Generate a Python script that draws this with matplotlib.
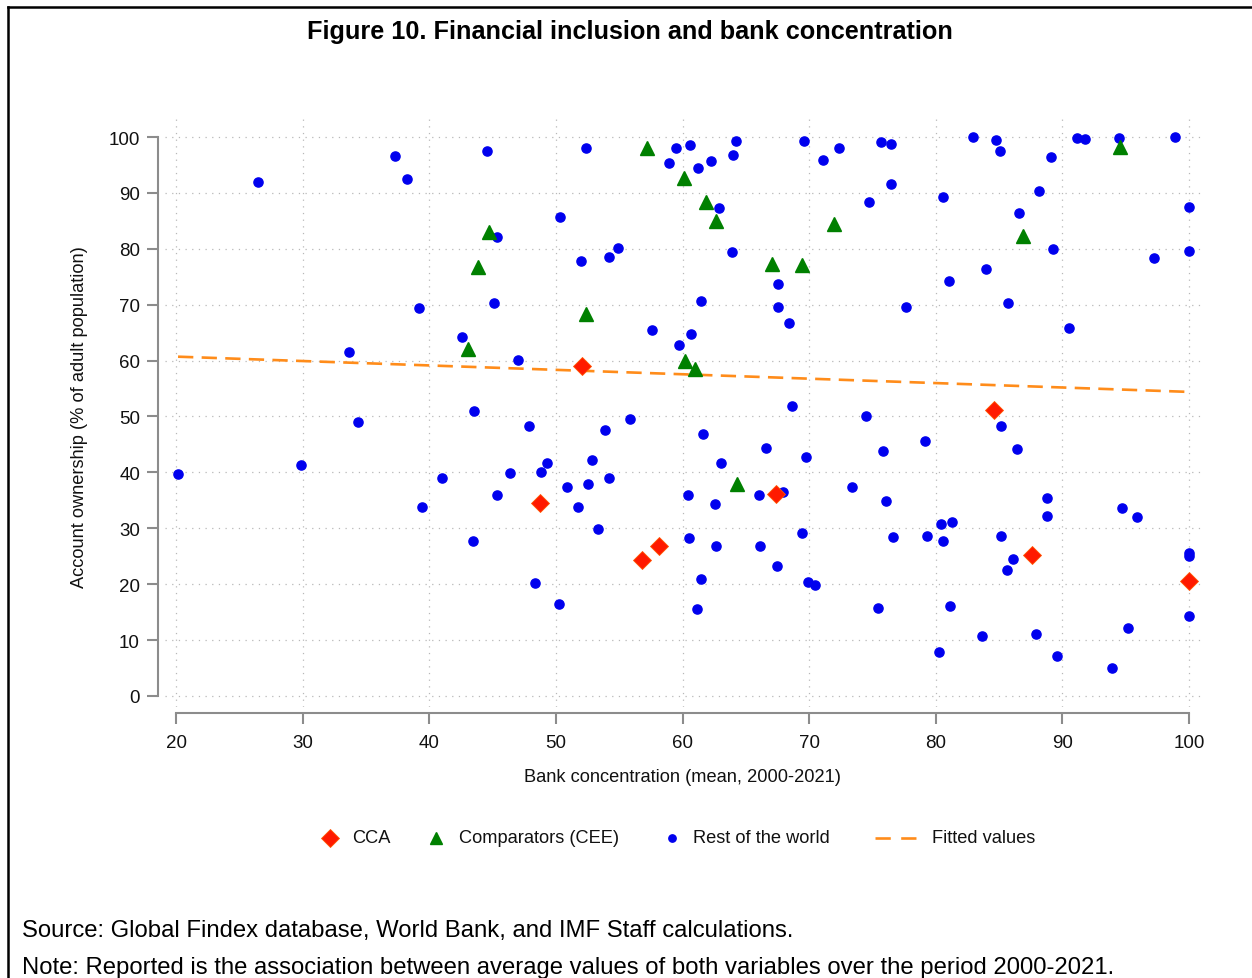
import matplotlib
matplotlib.use("Agg")
import matplotlib.pyplot as plt
from matplotlib.lines import Line2D
from matplotlib import font_manager

# ---------------- data ----------------
rest_x = [20.16, 26.48, 29.87, 33.66, 34.37, 37.30, 38.24, 39.19, 39.43, 41.01,
          42.59, 43.53, 43.45, 44.56, 45.35, 45.11, 45.35, 46.38, 47.01, 47.88,
          48.35, 48.83, 49.30, 50.33, 50.25, 50.88, 51.75, 51.98, 52.38, 52.54,
          52.85, 53.33, 53.88, 54.20, 54.20, 54.91, 55.85, 57.59, 58.93, 59.49,
          59.72, 60.43, 60.59, 60.51, 60.67, 61.15, 61.22, 61.46, 61.46, 61.62,
          62.25, 62.57, 62.65, 62.88, 63.04, 63.91, 63.99, 64.22, 66.04, 66.12,
          66.59, 67.46, 67.54, 67.54, 67.94, 68.41, 68.65, 69.44, 69.60, 69.75,
          69.91, 70.46, 71.10, 72.36, 73.39, 74.49, 74.73, 75.44, 75.68, 75.83,
          76.07, 76.47, 76.47, 76.62, 77.65, 79.15, 79.31, 80.26, 80.41, 80.57,
          80.57, 81.05, 81.13, 81.28, 82.94, 83.65, 83.97, 84.76, 85.07, 85.15,
          85.15, 85.71, 85.63, 86.10, 86.42, 86.57, 87.92, 88.15, 88.79, 88.79,
          89.10, 89.26, 89.58, 90.52, 91.16, 91.79, 93.92, 94.47, 94.71, 95.18,
          95.89, 97.24, 98.90, 100.0, 100.0, 100.0, 100.0, 100.0]
rest_y = [39.71, 91.95, 41.32, 61.54, 49.02, 96.60, 92.49, 69.41, 33.81, 39.00,
          64.22, 50.98, 27.73, 97.50, 82.11, 70.30, 35.96, 39.89, 60.11, 48.30,
          20.21, 40.07, 41.68, 85.69, 16.46, 37.39, 33.81, 77.82, 98.03, 37.92,
          42.22, 29.87, 47.58, 39.00, 78.53, 80.14, 49.55, 65.47, 95.35, 98.03,
          62.79, 35.96, 98.57, 28.26, 64.76, 15.56, 94.45, 20.93, 70.66, 46.87,
          95.71, 34.35, 26.83, 87.30, 41.68, 79.43, 96.78, 99.28, 35.96, 26.83,
          44.36, 23.26, 73.70, 69.59, 36.49, 66.73, 51.88, 29.16, 99.28, 42.75,
          20.39, 19.86, 95.89, 98.03, 37.39, 50.09, 88.37, 15.74, 99.11, 43.83,
          34.88, 98.75, 91.59, 28.44, 69.59, 45.62, 28.62, 7.87, 30.77, 27.73,
          89.27, 74.24, 16.10, 31.13, 100.0, 10.73, 76.39, 99.46, 97.50, 48.30,
          28.62, 70.30, 22.54, 24.51, 44.19, 86.40, 11.09, 90.34, 35.42, 32.20,
          96.42, 79.96, 7.16, 65.83, 99.82, 99.64, 5.01, 99.82, 33.63, 12.16,
          32.02, 78.35, 100.0, 87.48, 79.61, 25.58, 25.04, 14.31]

cee_x = [57.20, 60.12, 61.86, 62.65, 71.97, 44.72, 43.85, 67.07, 69.44, 52.38,
         43.06, 60.20, 60.99, 64.30, 86.89, 94.55]
cee_y = [98.03, 92.67, 88.37, 84.97, 84.44, 83.01, 76.74, 77.28, 77.10, 68.34,
         62.08, 59.93, 58.50, 37.92, 82.29, 98.21]

cca_x = [52.06, 48.75, 56.80, 58.14, 67.38, 84.60, 87.60, 100.0]
cca_y = [59.03, 34.53, 24.33, 26.83, 36.14, 51.16, 25.22, 20.57]

fit_x = [20.16, 100.0]
fit_y = [60.7, 54.4]

x_ticks = [20, 30, 40, 50, 60, 70, 80, 90, 100]
y_ticks = [0, 10, 20, 30, 40, 50, 60, 70, 80, 90, 100]

title = "Figure 10. Financial inclusion and bank concentration"
xlabel = "Bank concentration (mean, 2000-2021)"
ylabel = "Account ownership (% of adult population)"
source = "Source: Global Findex database, World Bank, and IMF Staff calculations."
note = "Note: Reported is the association between average values of both variables over the period 2000-2021."
labels = ["CCA", "Comparators (CEE)", "Rest of the world", "Fitted values"]

# ---------------- style ----------------
names = {f.name for f in font_manager.fontManager.ttflist}
if "Liberation Sans Narrow" in names:
    narrow, nscale = "Liberation Sans Narrow", 1.0
else:
    narrow, nscale = "Liberation Sans", 0.9
plt.rcParams['lines.scale_dashes'] = False

W, H = 1252, 979
fig = plt.figure(figsize=(W / 100, H / 100), dpi=100)

ax_l, ax_r, ax_t, ax_b = 165, 1204, 119, 708
ax = fig.add_axes([ax_l / W, 1 - ax_b / H, (ax_r - ax_l) / W, (ax_b - ax_t) / H])
ax.set_xlim(19.13, 101.18)
ax.set_ylim(-1.97, 103.4)

ax.grid(True, color="#b8b8b8", linestyle=(0, (0.9, 3.9)), linewidth=0.9)
ax.set_axisbelow(True)

BLUE = "#0000ee"
GREEN = "#008000"
RED = "#ff1a00"
ORANGE = "#ff8c1a"

MS_D, MS_T, MS_O = 9.6, 9.5, 6.6

ax.plot(fit_x, fit_y, color=ORANGE, linewidth=1.9, dashes=(11, 6), zorder=2)
ax.plot(rest_x, rest_y, linestyle="none", marker="o", ms=MS_O, color=BLUE, mec=BLUE, zorder=3)
ax.plot(cee_x, cee_y, linestyle="none", marker="^", ms=MS_T, color=GREEN, mec=GREEN, zorder=4)
ax.plot(cca_x, cca_y, linestyle="none", marker="D", ms=MS_D, color=RED, mec="#ff5500", mew=0.6, zorder=5)

for side in ("top", "right"):
    ax.spines[side].set_visible(False)
for side in ("left", "bottom"):
    ax.spines[side].set_color("#8c8c8c")
    ax.spines[side].set_linewidth(1.5)
ax.spines["left"].set_position(("outward", 5))
ax.spines["bottom"].set_position(("outward", 4.3))
ax.spines["left"].set_bounds(0, 100)
ax.spines["bottom"].set_bounds(20, 100)

ax.set_xticks(x_ticks)
ax.set_yticks(y_ticks)
ax.tick_params(axis="both", direction="out", length=8, width=1.5, color="#8c8c8c",
               labelsize=15 * nscale, labelcolor="#111111")
ax.tick_params(axis="y", pad=5)
ax.tick_params(axis="x", pad=7)
for lab in ax.get_xticklabels() + ax.get_yticklabels():
    lab.set_family(narrow)

fs_n = 14.6 * nscale
fig.text(682 / W, 1 - 777 / H, xlabel, ha="center", va="center", family=narrow, fontsize=fs_n, color="#111111")
fig.text(80 / W, 1 - 417 / H, ylabel, ha="center", va="center", rotation=90, family=narrow, fontsize=fs_n, color="#111111")

fig.text(630 / W, 1 - 31.5 / H, title, ha="center", va="center", family="Liberation Sans",
         fontweight="bold", fontsize=18.2, color="black")
fig.text(22 / W, 1 - 931 / H, source, ha="left", va="center", family="Liberation Sans", fontsize=17.2, color="black")
fig.text(22 / W, 1 - 968 / H, note, ha="left", va="center", family="Liberation Sans", fontsize=17.2, color="black")

# ---------------- legend (laid out below the plot) ----------------
leg_y = 1 - 839 / H
tf = fig.transFigure
fig.add_artist(Line2D([330 / W], [leg_y], linestyle="none", marker="D", ms=MS_D, color=RED,
                      mec="#ff5500", mew=0.6, transform=tf))
fig.add_artist(Line2D([436 / W], [leg_y], linestyle="none", marker="^", ms=MS_T * 0.9, color=GREEN,
                      mec=GREEN, transform=tf))
fig.add_artist(Line2D([672 / W], [leg_y], linestyle="none", marker="o", ms=MS_O * 0.8, color=BLUE,
                      mec=BLUE, transform=tf))
fig.add_artist(Line2D([875 / W, 916 / W], [leg_y, leg_y], color=ORANGE, linewidth=1.9,
                      dashes=(11, 7.5), transform=tf))
for xpix, lab in zip([352, 459, 693, 932], labels):
    fig.text(xpix / W, leg_y, lab, ha="left", va="center", family=narrow, fontsize=fs_n, color="#111111")

# figure border (left & top visible, cropped at right/bottom)
fig.add_artist(Line2D([8 / W, 8 / W], [0, 1 - 8 / H], color="black", linewidth=1.8, transform=tf))
fig.add_artist(Line2D([8 / W, 1], [1 - 8 / H, 1 - 8 / H], color="black", linewidth=1.8, transform=tf))

fig.savefig("out.png", dpi=100)
